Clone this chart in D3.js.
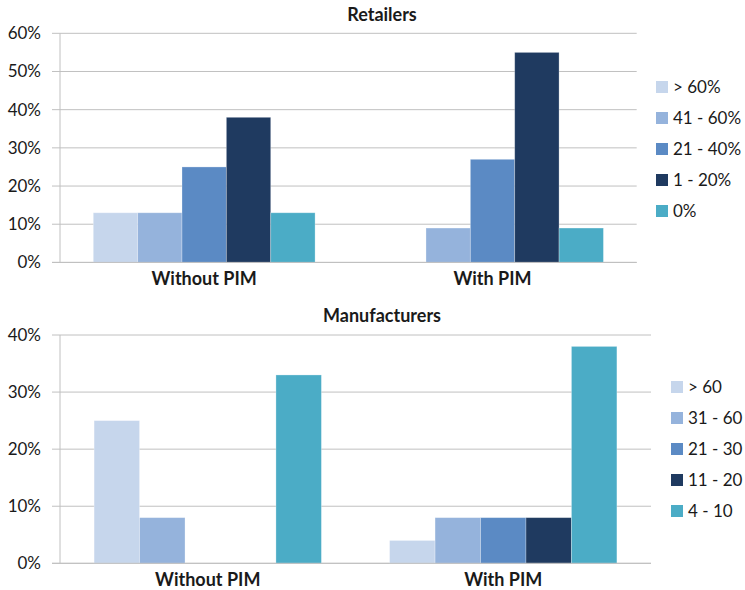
<!DOCTYPE html>
<html>
<head>
<meta charset="utf-8">
<script src="https://cdn.jsdelivr.net/npm/d3@7"></script>
<style>
  body { margin: 0; background: #fff; }
  svg { display: block; font-family: Lato, "Open Sans", sans-serif; }
</style>
</head>
<body>
<svg id="chart" width="745" height="590"></svg>
<script>
// ---- Data ----
const categories = ["Without PIM", "With PIM"];

const retailerSeries = ["> 60%", "41 - 60%", "21 - 40%", "1 - 20%", "0%"];
const retailerWithout = [13, 13, 25, 38, 13];
const retailerWith = [0, 9, 27, 55, 9];
const retailerTicks = [0, 10, 20, 30, 40, 50, 60];

const manufacturerSeries = ["> 60", "31 - 60", "21 - 30", "11 - 20", "4 - 10"];
const manufacturerWithout = [25, 8, 0, 0, 33];
const manufacturerWith = [4, 8, 8, 8, 38];
const manufacturerTicks = [0, 10, 20, 30, 40];

const colors = ["#c6d6ec", "#95b3dc", "#5b8ac4", "#1f3a60", "#4bacc6"];

// ---- Drawing ----
const svg = d3.select("#chart");

function panel(cfg) {
  const g = svg.append("g");
  const x0 = d3.scaleBand().domain(categories).range([cfg.left, cfg.right]).padding(0);
  const x1 = d3.scaleBand().domain(cfg.series).range([0, x0.bandwidth()])
    .paddingInner(0).paddingOuter(0.75);
  const y = d3.scaleLinear().domain([0, d3.max(cfg.ticks)]).range([cfg.bottom, cfg.top]);

  // gridlines
  g.append("g").selectAll("line").data(cfg.ticks).join("line")
    .attr("x1", cfg.left - 8).attr("x2", cfg.right)
    .attr("y1", d => y(d)).attr("y2", d => y(d))
    .attr("stroke", "#c0c0c0").attr("stroke-width", 1);

  // y axis line
  g.append("line")
    .attr("x1", cfg.left).attr("x2", cfg.left)
    .attr("y1", cfg.top).attr("y2", cfg.bottom)
    .attr("stroke", "#c0c0c0");

  // tick labels
  g.append("g").selectAll("text").data(cfg.ticks).join("text")
    .attr("x", 41).attr("y", d => y(d)).attr("dy", "0.35em")
    .attr("text-anchor", "end").attr("font-size", 17).attr("fill", "#1a1a1a")
    .text(d => d + "%");

  // bars
  const rows = categories.map((c, i) => ({ cat: c, vals: cfg.values[i] }));
  g.append("g").selectAll("g").data(rows).join("g")
    .attr("transform", d => `translate(${x0(d.cat)},0)`)
    .selectAll("rect")
    .data(d => d.vals.map((v, j) => ({ s: cfg.series[j], v, j })))
    .join("rect")
    .attr("x", d => x1(d.s))
    .attr("width", x1.bandwidth())
    .attr("y", d => y(d.v))
    .attr("height", d => y(0) - y(d.v))
    .attr("fill", d => colors[d.j])
    .attr("stroke", d => d.v > 0 ? "rgba(255,255,255,0.35)" : "none")
    .attr("stroke-width", 0.8);

  // redraw baseline on top
  g.append("line")
    .attr("x1", cfg.left - 8).attr("x2", cfg.right)
    .attr("y1", y(0)).attr("y2", y(0))
    .attr("stroke", "#c0c0c0");

  // category labels
  g.append("g").selectAll("text").data(categories).join("text")
    .attr("x", d => x0(d) + x0.bandwidth() / 2)
    .attr("y", cfg.catLabelY)
    .attr("text-anchor", "middle").attr("font-size", 18).attr("font-weight", "bold")
    .attr("fill", "#1a1a1a")
    .text(d => d);

  // title
  g.append("text")
    .attr("x", 382).attr("y", cfg.titleY)
    .attr("text-anchor", "middle").attr("font-size", 18).attr("font-weight", "bold")
    .attr("fill", "#1a1a1a")
    .text(cfg.title);

  // legend
  const lg = g.append("g").selectAll("g").data(cfg.series).join("g")
    .attr("transform", (d, i) => `translate(${cfg.legendX},${cfg.legendY + i * 31})`);
  lg.append("rect").attr("x", 0).attr("y", -6).attr("width", 12).attr("height", 12)
    .attr("fill", (d, i) => colors[i]);
  lg.append("text").attr("x", 17).attr("y", 0).attr("dy", "0.35em")
    .attr("font-size", 17).attr("fill", "#1a1a1a").text(d => d);
}

panel({
  title: "Retailers", titleY: 21,
  series: retailerSeries, values: [retailerWithout, retailerWith], ticks: retailerTicks,
  left: 60, right: 636.7, top: 33.3, bottom: 262.4,
  catLabelY: 285, legendX: 656, legendY: 87
});

panel({
  title: "Manufacturers", titleY: 322,
  series: manufacturerSeries, values: [manufacturerWithout, manufacturerWith], ticks: manufacturerTicks,
  left: 60, right: 651, top: 335, bottom: 563.3,
  catLabelY: 586, legendX: 671, legendY: 387
});
</script>
</body>
</html>
